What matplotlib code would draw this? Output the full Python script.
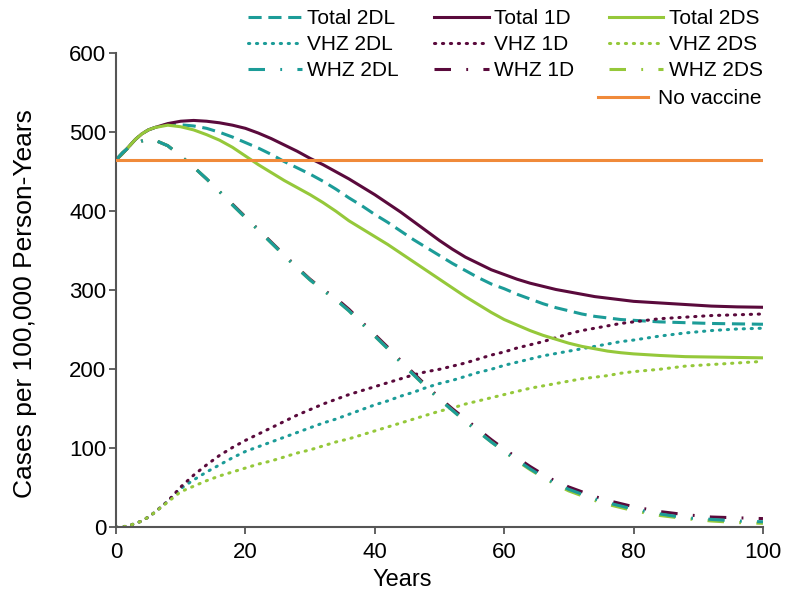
import matplotlib
matplotlib.use("Agg")
import matplotlib.pyplot as plt

plt.rcParams['font.family'] = ['Liberation Sans', 'DejaVu Sans']

# years at which values were read
yrs = [0, 1, 2, 3, 4, 5, 6, 8, 10, 12, 14, 16, 18, 20, 22, 24, 26, 28, 30, 32, 34, 36, 38, 40,
       42, 44, 46, 48, 50, 52, 54, 56, 58, 60, 62, 64, 66, 68, 70, 72, 74, 76, 78, 80,
       84, 88, 92, 96, 100]

total_1d = [465, 473, 482, 491, 498, 503, 506, 511, 514, 515, 514, 512, 509, 505, 499, 492, 484, 476, 467, 459, 450, 441, 431, 421,
            410, 399, 387, 375, 363, 352, 342, 334, 326, 320, 314, 309, 305, 301, 298, 295, 292, 290, 288, 286,
            284, 282, 280, 279, 278.5]
total_2dl = [465, 473, 482, 491, 498, 503, 506, 510, 509.5, 508, 505, 500, 494, 487, 480, 472, 463, 455, 447, 438, 428, 417, 407, 396,
             386, 375, 364, 354, 344, 334, 325, 316, 308, 302, 295, 289, 283, 278, 274, 270, 267, 265, 263, 262,
             260, 259, 258, 257.5, 257]
total_2ds = [465, 473, 482, 491, 498, 503, 506, 509, 507, 503, 497, 490, 481, 470, 459, 449, 439, 430, 421, 411, 400, 388, 378, 368,
             358, 347, 336, 325, 314, 303, 292, 282, 272, 263, 256, 249, 243, 238, 233, 229, 226, 223, 221, 219.5,
             217.5, 216, 215.5, 215, 214.5]

vhz_1d = [0, 0.5, 2, 5, 8, 13, 19, 33, 51, 66, 79, 91, 101, 110, 118, 126, 134, 142, 149, 156, 162, 168, 173, 178,
          183, 188, 193, 197, 200, 204, 208, 213, 218, 222, 227, 231, 235, 240, 245, 249, 252, 255, 258, 260,
          264, 266, 268, 269, 270]
vhz_2dl = [0, 0.5, 2, 5, 8, 13, 19, 33, 49, 60, 70, 79, 88, 96, 102, 108, 114, 120, 126, 132, 137, 143, 149, 155,
           160, 166, 171, 177, 182, 186, 191, 196, 200, 205, 209, 213, 217, 220, 223, 226, 229, 232, 235, 237,
           242, 246, 249, 251, 252]
vhz_2ds = [0, 0.5, 2, 5, 8, 13, 19, 32, 45, 52, 59, 65, 70, 75, 80, 84, 89, 94, 98, 103, 108, 112, 117, 122,
           127, 132, 137, 142, 147, 151, 156, 160, 164, 168, 172, 176, 179, 182, 185, 188, 190, 192, 195, 197,
           200, 204, 206, 208, 210]

whz_1d = [465, 474, 481, 486, 489, 491, 490, 483, 470, 456, 441, 425, 409, 393, 377, 361, 345, 329, 314, 301, 290, 276, 260, 244,
          228, 211, 195, 179, 164, 150, 137, 124, 111, 99, 88, 77, 67, 58, 51, 45, 39, 34, 30, 26,
          20, 16, 13, 12, 11]
whz_2dl = [465, 474, 481, 486, 489, 491, 490, 483, 470, 456, 441, 425, 408, 392, 376, 360, 344, 328, 313, 300, 288, 274, 258, 242,
           226, 209, 193, 177, 162, 148, 134, 121, 108, 96, 85, 74, 64, 55, 48, 42, 36, 31, 27, 23,
           17, 12, 10, 8, 7]
whz_2ds = [465, 474, 481, 486, 489, 491, 490, 483, 470, 456, 441, 425, 408, 392, 376, 360, 344, 328, 313, 300, 288, 274, 258, 242,
           226, 209, 193, 177, 162, 148, 134, 121, 108, 96, 84, 73, 63, 54, 46, 40, 34, 29, 25, 21,
           15, 11, 8, 6, 5]

no_vaccine = 465

c_2dl = '#1c9c98'
c_1d = '#5a0a3c'
c_2ds = '#95c83a'
c_nov = '#f08a3a'

dash = (4.3, 2.2)
dot = (0.4, 2.2)
dashdot = (5.4, 5, 0.6, 5)

fig = plt.figure(figsize=(7.86, 5.94), dpi=100)
ax = fig.add_axes([0.1476, 0.1123, 0.8231, 0.798])

lw = 2.2
kw_dash = dict(lw=lw, dashes=dash)
kw_dot = dict(lw=lw, dashes=dot, dash_capstyle='round')
kw_dd = dict(lw=lw, dashes=dashdot)

h_t2dl, = ax.plot(yrs, total_2dl, color=c_2dl, **kw_dash)
h_v2dl, = ax.plot(yrs, vhz_2dl, color=c_2dl, **kw_dot)
h_t1d, = ax.plot(yrs, total_1d, color=c_1d, lw=lw)
h_v1d, = ax.plot(yrs, vhz_1d, color=c_1d, **kw_dot)
h_t2ds, = ax.plot(yrs, total_2ds, color=c_2ds, lw=lw)
h_v2ds, = ax.plot(yrs, vhz_2ds, color=c_2ds, **kw_dot)
h_w1d, = ax.plot(yrs, whz_1d, color=c_1d, **kw_dd)
h_w2ds, = ax.plot(yrs, whz_2ds, color=c_2ds, **kw_dd)
h_w2dl, = ax.plot(yrs, whz_2dl, color=c_2dl, **kw_dd)
h_nov = ax.axhline(no_vaccine, color=c_nov, lw=lw, zorder=5)

ax.set_xlim(0, 100)
ax.set_ylim(0, 600)
ax.set_xticks([0, 20, 40, 60, 80, 100])
ax.set_yticks([0, 100, 200, 300, 400, 500, 600])
ax.tick_params(labelsize=16, length=5, width=1.3, color='#555555')
ax.tick_params(axis='x', pad=5.4)
ax.tick_params(axis='y', pad=2)
for s in ['top', 'right']:
    ax.spines[s].set_visible(False)
for s in ['left', 'bottom']:
    ax.spines[s].set_color('#555555')
    ax.spines[s].set_linewidth(1.5)

ax.set_xlabel('Years', fontsize=17)
ax.xaxis.set_label_coords(0.442, -0.088)
ax.set_ylabel('Cases per 100,000 Person-Years', fontsize=19)
ax.yaxis.set_label_coords(-0.122, 0.472)

handles = [h_t2dl, h_v2dl, h_w2dl, h_t1d, h_v1d, h_w1d, h_t2ds, h_v2ds, h_w2ds]
labels = ['Total 2DL', 'VHZ 2DL', 'WHZ 2DL', 'Total 1D', 'VHZ 1D', 'WHZ 1D',
          'Total 2DS', 'VHZ 2DS', 'WHZ 2DS']
fig.legend(handles, labels, ncol=3, loc='upper left', bbox_to_anchor=(248 / 786, 0.985),
           frameon=False, fontsize=15, handlelength=2.6, handletextpad=0.25,
           columnspacing=1.7, labelspacing=0.35, borderpad=0, borderaxespad=0)
fig.legend([h_nov], ['No vaccine'], loc='upper left', bbox_to_anchor=(598 / 786, 1 - 89 / 594),
           frameon=False, fontsize=15, handlelength=2.4, handletextpad=0.5,
           borderpad=0, borderaxespad=0)

fig.savefig('out.png', dpi=100)
